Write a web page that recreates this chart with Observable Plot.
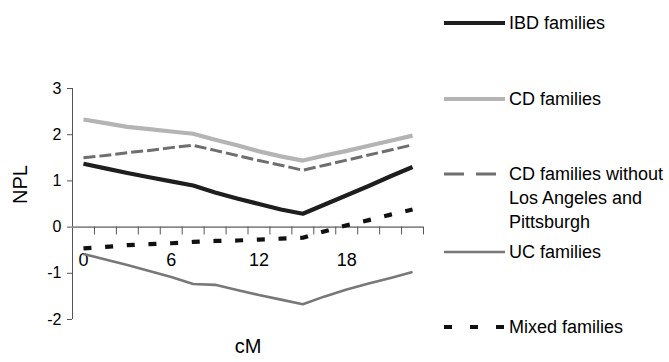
<!DOCTYPE html>
<html><head><meta charset="utf-8">
<script src="https://cdn.jsdelivr.net/npm/d3@7"></script>
<script src="https://cdn.jsdelivr.net/npm/@observablehq/plot@0.6"></script>
<style>
html,body{margin:0;padding:0;background:#fff;}
#chart{position:relative;width:669px;height:362px;font-family:"Liberation Sans",Arial,sans-serif;}
#chart svg{position:absolute;left:0;top:0;overflow:visible;}
</style></head><body><div id="chart"></div>
<script>
// ---- data ----
const cM = [0, 1.5, 3, 4.5, 6, 7.5, 9, 10.5, 12, 13.5, 15, 16.5, 18, 19.5, 21, 22.5];
const ibdFamilies   = [1.37, 1.27, 1.17, 1.08, 0.99, 0.90, 0.75, 0.62, 0.50, 0.38, 0.29, 0.49, 0.69, 0.89, 1.10, 1.30];
const cdFamilies    = [2.33, 2.25, 2.17, 2.12, 2.07, 2.02, 1.89, 1.77, 1.64, 1.53, 1.44, 1.55, 1.65, 1.76, 1.87, 1.98];
const cdWithoutLAP  = [1.50, 1.55, 1.61, 1.66, 1.72, 1.77, 1.66, 1.55, 1.44, 1.34, 1.23, 1.34, 1.45, 1.56, 1.67, 1.78];
const ucFamilies    = [-0.58, -0.70, -0.82, -0.95, -1.08, -1.23, -1.25, -1.36, -1.47, -1.57, -1.67, -1.50, -1.35, -1.22, -1.10, -0.97];
const mixedFamilies = [-0.46, -0.43, -0.39, -0.37, -0.35, -0.32, -0.30, -0.29, -0.27, -0.25, -0.23, -0.09, 0.04, 0.15, 0.27, 0.38];
const seriesNames = ["IBD families", "CD families", "CD families without Los Angeles and Pittsburgh", "UC families", "Mixed families"];
const legendLines = [["IBD families"], ["CD families"], ["CD families without", "Los Angeles and", "Pittsburgh"], ["UC families"], ["Mixed families"]];
const xTickLabels = [0, 6, 12, 18];
const yTicks = [-2, -1, 0, 1, 2, 3];

// ---- styles ----
const seriesValues = [ibdFamilies, cdFamilies, cdWithoutLAP, ucFamilies, mixedFamilies];
const seriesStyle = [
  {stroke: "#1e1e1e", strokeWidth: 4.2, dash: null, legendDash: null},
  {stroke: "#b4b4b4", strokeWidth: 4.2, dash: null, legendDash: null},
  {stroke: "#6e6e6e", strokeWidth: 3, dash: "12,4", legendDash: "20,12"},
  {stroke: "#787878", strokeWidth: 2.6, dash: null, legendDash: null},
  {stroke: "#111111", strokeWidth: 4.2, dash: "8,13.7", legendDash: "8,18"}
];
const legendY = [23, 99, 174, 252, 327];

const rows = [];
seriesNames.forEach((s, k) => cM.forEach((x, i) => rows.push({series: s, x, y: seriesValues[k][i]})));

const step = cM[1] - cM[0];
const xMin = cM[0] - step / 2, xMax = cM[cM.length - 1] + step / 2;
const boundaries = cM.map(d => d + step / 2);
const font = '"Liberation Sans", Arial, sans-serif';

const plot = Plot.plot({
  width: 669, height: 362,
  marginLeft: 72, marginRight: 246, marginTop: 88, marginBottom: 43,
  style: {fontFamily: font, fontSize: "16px", color: "#000", background: "transparent"},
  x: {domain: [xMin, xMax], axis: null},
  y: {domain: [-2, 3]},
  marks: [
    Plot.axisY({ticks: yTicks, tickSize: 5, tickPadding: 6, fontSize: 16, label: null, stroke: "#555",
      tickFormat: d => (d < 0 ? "-" + Math.abs(d) : String(d))}),
    Plot.ruleX([xMin], {y1: -2, y2: 3, stroke: "#555", strokeWidth: 1}),
    Plot.ruleY([0], {x1: xMin, x2: xMax, stroke: "#8a8a8a", strokeWidth: 1.6}),
    Plot.ruleX(boundaries, {x: d => d, y1: 0, y2: -0.17, stroke: "#555", strokeWidth: 1}),
    Plot.text(xTickLabels, {x: d => d, y: 0, dy: 33, fontSize: 18, text: d => String(d), fill: "#000"}),
    Plot.text(["NPL"], {frameAnchor: "left", dx: -52, rotate: -90, fontSize: 20, fill: "#000"}),
    Plot.text(["cM"], {frameAnchor: "bottom", dy: 33, fontSize: 20, fill: "#000"}),
    ...seriesNames.map((s, k) => Plot.line(rows.filter(r => r.series === s), {
      x: "x", y: "y", stroke: seriesStyle[k].stroke, strokeWidth: seriesStyle[k].strokeWidth,
      strokeDasharray: seriesStyle[k].dash, strokeLinecap: "butt", strokeLinejoin: "round"
    }))
  ]
});
document.getElementById("chart").appendChild(plot);

// ---- legend ----
const lg = d3.select("#chart").append("svg").attr("width", 669).attr("height", 362)
  .style("font-family", font).style("font-size", "18px");
legendLines.forEach((lines, k) => {
  const st = seriesStyle[k];
  lg.append("line").attr("x1", 444).attr("x2", k === 2 ? 496 : 505)
    .attr("y1", legendY[k]).attr("y2", legendY[k])
    .attr("stroke", st.stroke).attr("stroke-width", st.strokeWidth)
    .attr("stroke-dasharray", st.legendDash);
  lines.forEach((t, j) => {
    lg.append("text").attr("x", 509).attr("y", legendY[k] + j * 23.8)
      .attr("dominant-baseline", "central").attr("fill", "#000").text(t);
  });
});
</script></body></html>
